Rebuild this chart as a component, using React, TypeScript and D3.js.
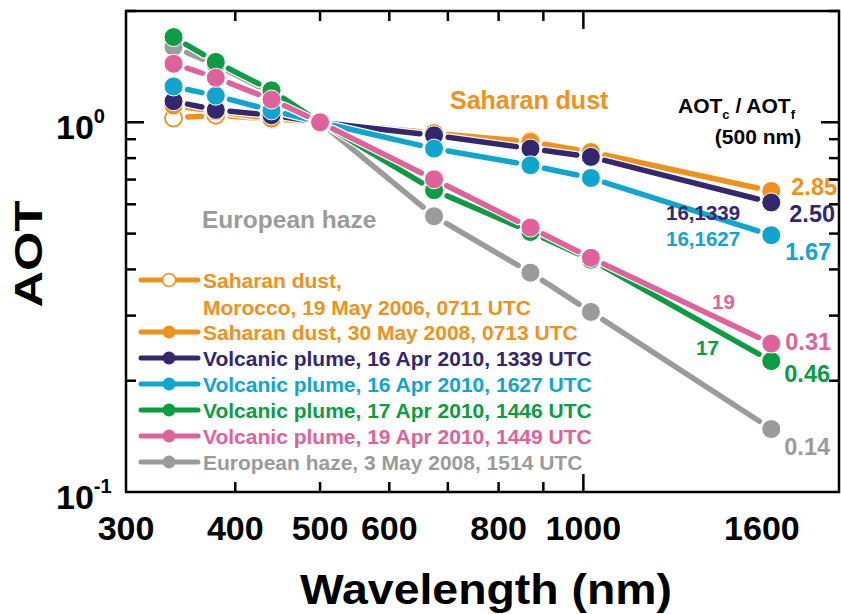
import React from "react";
import * as d3 from "d3";

// Wavelengths (nm) of the sun-photometer channels
const wavelengths = [340, 380, 440, 500, 675, 870, 1020, 1640];

// Spectral AOT normalised at 500 nm
const dust2006 = [1.027, 1.045, 1.02, 1.0, 0.93, 0.89, 0.83];
const dust2008 = [1.11, 1.07, 1.023, 1.0, 0.935, 0.885, 0.831, 0.652];
const volcanic16a = [1.14, 1.08, 1.045, 1.0, 0.922, 0.849, 0.806, 0.607];
const volcanic16b = [1.25, 1.18, 1.077, 1.0, 0.849, 0.765, 0.707, 0.495];
const volcanic17 = [1.7, 1.456, 1.22, 1.0, 0.655, 0.505, 0.425, 0.226];
const volcanic19 = [1.44, 1.32, 1.152, 1.0, 0.701, 0.519, 0.43, 0.252];
const haze2008 = [1.6, 1.43, 1.2, 1.0, 0.557, 0.392, 0.307, 0.148];

// Coarse/fine AOT ratios at 500 nm
const ratioLabels = ["2.85", "2.50", "1.67", "0.31", "0.46", "0.14"];

const legendLabels = [
  ["Saharan dust,", "Morocco, 19 May 2006, 0711 UTC"],
  ["Saharan dust, 30 May 2008, 0713 UTC"],
  ["Volcanic plume, 16 Apr 2010, 1339 UTC"],
  ["Volcanic plume, 16 Apr 2010, 1627 UTC"],
  ["Volcanic plume, 17 Apr 2010, 1446 UTC"],
  ["Volcanic plume, 19 Apr 2010, 1449 UTC"],
  ["European haze, 3 May 2008, 1514 UTC"],
];

const xTickLabels = [300, 400, 500, 600, 800, 1000, 1600];

const ORANGE = "#F0911C";
const PURPLE = "#35276F";
const CYAN = "#0EA6CF";
const GREEN = "#0A9D42";
const PINK = "#E0619B";
const GRAY = "#9B9B9B";

const FONT = "'Liberation Sans', Arial, Helvetica, sans-serif";

type Series = {
  key: string;
  values: number[];
  color: string;
  open?: boolean;
  legendRow: number;
  ratio?: string;
  ratioDy?: number;
  ratioDx?: number;
};

// Drawing order (bottom to top)
const series: Series[] = [
  { key: "haze", values: haze2008, color: GRAY, legendRow: 6, ratio: ratioLabels[5], ratioDy: 26, ratioDx: 13 },
  { key: "dust2006", values: dust2006, color: ORANGE, open: true, legendRow: 0 },
  { key: "dust2008", values: dust2008, color: ORANGE, legendRow: 1, ratio: ratioLabels[0], ratioDy: 4, ratioDx: 20 },
  { key: "v16a", values: volcanic16a, color: PURPLE, legendRow: 2, ratio: ratioLabels[1], ratioDy: 20, ratioDx: 18 },
  { key: "v16b", values: volcanic16b, color: CYAN, legendRow: 3, ratio: ratioLabels[2], ratioDy: 25, ratioDx: 14 },
  { key: "v17", values: volcanic17, color: GREEN, legendRow: 4, ratio: ratioLabels[4], ratioDy: 21, ratioDx: 13 },
  { key: "v19", values: volcanic19, color: PINK, legendRow: 5, ratio: ratioLabels[3], ratioDy: 6, ratioDx: 14 },
];

const W = 841;
const H = 614;
const left = 126;
const right = 839;
const top = 11;
const bottom = 492;

const x = d3.scaleLog().domain([300, 1960]).range([left, right]);
const y = d3.scaleLog().domain([0.1, 2]).range([bottom, top]);

const R = 9.5;
const LW = 5.5;

function segments(s: Series) {
  const pts = s.values.map((v, i) => [x(wavelengths[i]), y(v)] as [number, number]);
  const out: { x1: number; y1: number; x2: number; y2: number }[] = [];
  for (let i = 0; i < pts.length - 1; i++) {
    const [ax, ay] = pts[i];
    const [bx, by] = pts[i + 1];
    const dx = bx - ax;
    const dy = by - ay;
    const len = Math.hypot(dx, dy);
    const trim = R + 2 + LW / 2;
    if (len <= trim * 2) continue;
    const ux = dx / len;
    const uy = dy / len;
    out.push({ x1: ax + ux * trim, y1: ay + uy * trim, x2: bx - ux * trim, y2: by - uy * trim });
  }
  return out;
}

const yMinor = [0.2, 0.3, 0.4, 0.5, 0.6, 0.7, 0.8, 0.9, 2];
const xMinor = [400, 500, 600, 700, 800, 900];

export default function App() {
  const legendY = (row: number) => (row === 0 ? 280 : 306 + row * 26);
  return (
    <svg
      width={W}
      height={H}
      viewBox={`0 0 ${W} ${H}`}
      style={{ position: "absolute", left: 0, top: 0, display: "block", background: "#fff" }}
      fontFamily={FONT}
      fontWeight="bold"
    >
      <rect width={W} height={H} fill="#fff" />

      {/* series */}
      {series.map((s) => (
        <g key={s.key}>
          {segments(s).map((g, i) => (
            <line key={"h" + i} {...g} stroke="#fff" strokeWidth={LW + 2.5} strokeLinecap="round" />
          ))}
          {segments(s).map((g, i) => (
            <line key={"l" + i} {...g} stroke={s.color} strokeWidth={LW} strokeLinecap="round" />
          ))}
          {s.values.map((v, i) => (
            <circle
              key={"c" + i}
              cx={x(wavelengths[i])}
              cy={y(v)}
              r={s.open ? R - 1 : R}
              fill={s.open ? "#fff" : s.color}
              stroke={s.open ? s.color : "#fff"}
              strokeWidth={s.open ? 1.8 : 1}
            />
          ))}
        </g>
      ))}

      {/* ratio labels at the last channel */}
      {series
        .filter((s) => s.ratio)
        .map((s) => (
          <text
            key={"r" + s.key}
            x={x(wavelengths[wavelengths.length - 1]) + (s.ratioDx ?? 14)}
            y={y(s.values[s.values.length - 1]) + (s.ratioDy ?? 0)}
            fill={s.color}
            fontSize={23.5}
          >
            {s.ratio}
          </text>
        ))}

      {/* case annotations */}
      <text x={666} y={220} fill={PURPLE} fontSize={20.5}>16,1339</text>
      <text x={666} y={246} fill={CYAN} fontSize={20.5}>16,1627</text>
      <text x={712} y={309} fill={PINK} fontSize={20.5}>19</text>
      <text x={696} y={355} fill={GREEN} fontSize={20.5}>17</text>

      <text x={450} y={109} fill={ORANGE} fontSize={25}>Saharan dust</text>
      <text x={202} y={228} fill={GRAY} fontSize={24.5}>European haze</text>

      <text x={678} y={113} fill="#000" fontSize={21}>
        AOT
        <tspan fontSize={13} dy={6}>c</tspan>
        <tspan dy={-6}> / AOT</tspan>
        <tspan fontSize={13} dy={6}>f</tspan>
      </text>
      <text x={758} y={144} fill="#000" fontSize={21} textAnchor="middle">(500 nm)</text>

      {/* legend */}
      {series.map((s) => {
        const ly = legendY(s.legendRow);
        const lines = legendLabels[s.legendRow];
        return (
          <g key={"lg" + s.key}>
            <line x1={141} x2={198} y1={ly} y2={ly} stroke={s.color} strokeWidth={5} strokeLinecap="round" />
            <circle
              cx={169}
              cy={ly}
              r={6.5}
              fill={s.open ? "#fff" : s.color}
              stroke={s.color}
              strokeWidth={s.open ? 1.5 : 0}
            />
            {lines.map((t, i) => (
              <text key={i} x={203} y={ly + 7.5 + i * 27} fill={s.color} fontSize={21}>
                {t}
              </text>
            ))}
          </g>
        );
      })}

      {/* frame and ticks */}
      <g stroke="#000" strokeWidth={2.5} fill="none">
        <rect x={left} y={top} width={right - left} height={bottom - top} />
        {yMinor.map((v) => (
          <g key={"ym" + v}>
            <line x1={left} x2={left + 10} y1={y(v)} y2={y(v)} />
            <line x1={right} x2={right - 10} y1={y(v)} y2={y(v)} />
          </g>
        ))}
        <line x1={left} x2={left + 18} y1={y(1)} y2={y(1)} />
        <line x1={right} x2={right - 18} y1={y(1)} y2={y(1)} />
        {xMinor.map((v) => (
          <g key={"xm" + v}>
            <line x1={x(v)} x2={x(v)} y1={bottom} y2={bottom - 10} />
            <line x1={x(v)} x2={x(v)} y1={top} y2={top + 10} />
          </g>
        ))}
        <line x1={x(1000)} x2={x(1000)} y1={bottom} y2={bottom - 18} />
        <line x1={x(1000)} x2={x(1000)} y1={top} y2={top + 18} />
      </g>

      {/* x tick labels */}
      {xTickLabels.map((v) => (
        <text key={"xl" + v} x={x(v)} y={540} textAnchor="middle" fontSize={34} fill="#000">
          {v}
        </text>
      ))}

      {/* y tick labels */}
      {[
        { v: 1, e: "0" },
        { v: 0.1, e: "-1" },
      ].map((d) => (
        <text key={"yl" + d.v} x={56} y={y(d.v) + 17} fontSize={34} fill="#000">
          10
          <tspan fontSize={20} dy={-16}>{d.e}</tspan>
        </text>
      ))}

      {/* axis titles */}
      <text
        x={300}
        y={604}
        fontSize={42}
        fill="#000"
        textLength={372}
        lengthAdjust="spacingAndGlyphs"
      >
        Wavelength (nm)
      </text>
      <text
        transform="translate(42,254) rotate(-90)"
        textAnchor="middle"
        fontSize={38}
        fill="#000"
        textLength={107}
        lengthAdjust="spacingAndGlyphs"
      >
        AOT
      </text>
    </svg>
  );
}
